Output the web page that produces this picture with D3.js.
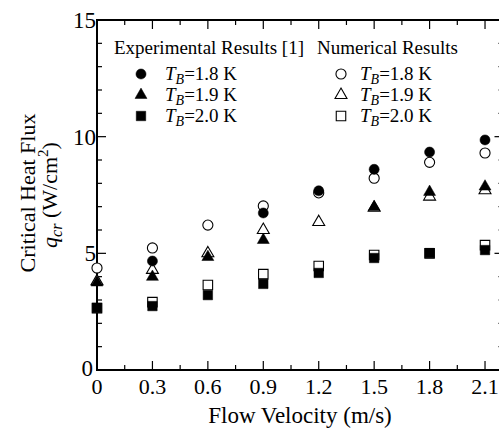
<!DOCTYPE html>
<html>
<head>
<meta charset="utf-8">
<script src="https://cdn.jsdelivr.net/npm/d3@7/dist/d3.min.js"></script>
<style>
  html, body { margin: 0; padding: 0; background: #fff; }
  svg { display: block; font-family: "Liberation Serif", "Times New Roman", serif; }
</style>
</head>
<body>
<svg id="chart" width="499" height="428"></svg>
<script>
// Flow velocity (m/s) at which critical heat flux was evaluated
const velocity = [0, 0.3, 0.6, 0.9, 1.2, 1.5, 1.8, 2.1];

// Experimental results [1], q_cr in W/cm^2 (null = no measurement)
const exp18 = [null, 4.67, null, 6.73, 7.68, 8.60, 9.34, 9.86];
const exp19 = [3.75, 3.99, 4.84, 5.57, null, 6.98, 7.63, 7.86];
const exp20 = [2.66, 2.74, 3.21, 3.69, 4.16, 4.80, 5.01, 5.14];

// Numerical results, q_cr in W/cm^2
const num18 = [4.37, 5.23, 6.21, 7.03, 7.59, 8.22, 8.90, 9.30];
const num19 = [3.80, 4.29, 5.00, 6.00, 6.34, 6.95, 7.43, 7.70];
const num20 = [2.65, 2.91, 3.64, 4.11, 4.46, 4.93, 5.00, 5.35];

// Axis ticks
const xTicks = [0, 0.3, 0.6, 0.9, 1.2, 1.5, 1.8, 2.1];
const xMinor = [0.15, 0.45, 0.75, 1.05, 1.35, 1.65, 1.95];
const yTicks = [0, 5, 10, 15];
const yMinor = [1, 2, 3, 4, 6, 7, 8, 9, 11, 12, 13, 14];

const tempLabels = ["1.8", "1.9", "2.0"];

const svg = d3.select("#chart");
const pLeft = 97, pRight = 503.5, pTop = 20, pBottom = 370;

const x = d3.scaleLinear().domain([0, 2.2]).range([pLeft, pRight]);
const y = d3.scaleLinear().domain([0, 15]).range([pBottom, pTop]);

// Frame
svg.append("rect")
  .attr("x", pLeft).attr("y", pTop)
  .attr("width", pRight - pLeft).attr("height", pBottom - pTop)
  .attr("fill", "none").attr("stroke", "#000").attr("stroke-width", 2);

// Inward ticks on all four sides
const tickG = svg.append("g").attr("stroke", "#000").attr("stroke-width", 1.2);
function xTickMarks(vals, len) {
  vals.forEach(v => {
    tickG.append("line").attr("x1", x(v)).attr("x2", x(v)).attr("y1", pBottom).attr("y2", pBottom - len);
    tickG.append("line").attr("x1", x(v)).attr("x2", x(v)).attr("y1", pTop).attr("y2", pTop + len);
  });
}
function yTickMarks(vals, len) {
  vals.forEach(v => {
    tickG.append("line").attr("y1", y(v)).attr("y2", y(v)).attr("x1", pLeft).attr("x2", pLeft + len);
    tickG.append("line").attr("y1", y(v)).attr("y2", y(v)).attr("x1", pRight).attr("x2", pRight - len);
  });
}
xTickMarks(xTicks, 9);
xTickMarks(xMinor, 5);
yTickMarks(yTicks, 9);
yTickMarks(yMinor, 5);

// Tick labels
const fmtX = d => d === 0 ? "0" : d3.format(".1f")(d);
svg.append("g").selectAll("text").data(xTicks).join("text")
  .attr("x", d => x(d)).attr("y", 394)
  .attr("text-anchor", "middle").attr("font-size", 22)
  .text(fmtX);
svg.append("g").selectAll("text").data(yTicks).join("text")
  .attr("x", d => d === 0 ? 93 : 96).attr("y", d => y(d) + (d === 0 ? 6 : 8))
  .attr("text-anchor", "end").attr("font-size", 23)
  .text(d => d);

// Axis titles
svg.append("text")
  .attr("x", 300).attr("y", 423)
  .attr("text-anchor", "middle").attr("font-size", 23)
  .text("Flow Velocity (m/s)");

svg.append("text")
  .attr("transform", `translate(35,${(pTop + pBottom) / 2 - 2}) rotate(-90)`)
  .attr("text-anchor", "middle").attr("font-size", 22)
  .text("Critical Heat Flux");

const yt2 = svg.append("text")
  .attr("transform", `translate(57,${(pTop + pBottom) / 2}) rotate(-90)`)
  .attr("text-anchor", "middle").attr("font-size", 22);
yt2.append("tspan").attr("font-style", "italic").text("q");
yt2.append("tspan").attr("font-style", "italic").attr("font-size", 16).attr("dy", 5).text("cr");
yt2.append("tspan").attr("dy", -5).text(" (W/cm");
yt2.append("tspan").attr("font-size", 15).attr("dy", -9).text("2");
yt2.append("tspan").attr("dy", 9).text(")");

// Marker shapes
const shapes = [d3.symbolCircle, d3.symbolTriangle, d3.symbolSquare];
const sizes = [80, 62, 90];
function marker(g, i, filled) {
  return g.append("path")
    .attr("d", d3.symbol().type(shapes[i]).size(sizes[i])())
    .attr("fill", filled ? "#000" : "#fff")
    .attr("stroke", "#000")
    .attr("stroke-width", filled ? 0.5 : 1.1);
}

const numSeries = [num18, num19, num20];
const expSeries = [exp18, exp19, exp20];

// Numerical points (open) first, experimental points (filled) on top
const plot = svg.append("g");
function drawSeries(series, filled) {
  series.forEach((vals, i) => {
    velocity.forEach((v, k) => {
      if (vals[k] == null) return;
      const g = plot.append("g").attr("transform", `translate(${x(v)},${y(vals[k])})`);
      marker(g, i, filled);
    });
  });
}
drawSeries(numSeries, false);
drawSeries(expSeries, true);

// Legends
const legFont = 19;
function legend(title, tx, mx, lx, filled) {
  svg.append("text").attr("x", tx).attr("y", 54).attr("font-size", legFont).text(title);
  tempLabels.forEach((t, i) => {
    const cy = 74 + i * 21;
    const g = svg.append("g").attr("transform", `translate(${mx},${cy})`);
    marker(g, i, filled);
    const txt = svg.append("text").attr("x", lx).attr("y", cy + 6).attr("font-size", legFont);
    txt.append("tspan").attr("font-style", "italic").text("T");
    txt.append("tspan").attr("font-style", "italic").attr("font-size", 14).attr("dy", 4).text("B");
    txt.append("tspan").attr("dy", -4).text("=" + t + " K");
  });
}
legend("Experimental Results [1]", 114, 141, 165, true);
legend("Numerical Results", 317, 341, 360, false);
</script>
</body>
</html>
